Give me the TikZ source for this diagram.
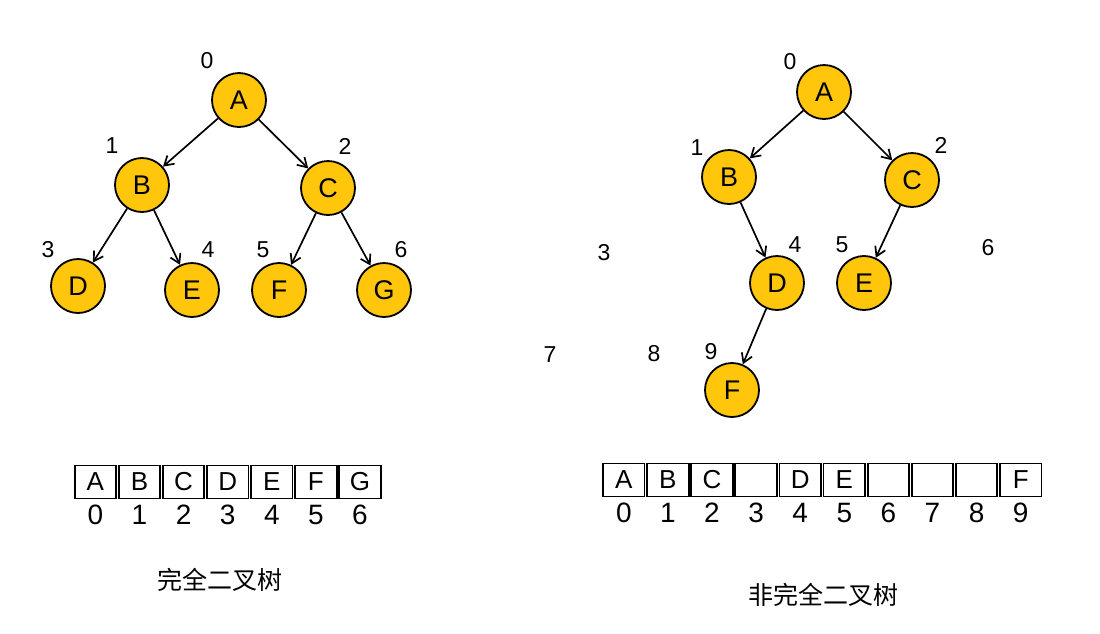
\documentclass[tikz,border=0pt]{standalone}
\usepackage{fontspec}
\setmainfont{Liberation Sans}
\newfontfamily\cjk{Noto Sans CJK SC}
\usepackage{tikz}
\usetikzlibrary{arrows.meta, positioning, calc}
\definecolor{treegold}{HTML}{FFC60B}

\begin{document}
\begin{tikzpicture}[
    x=1pt, y=-1pt,
    tnode/.style={circle, draw, line width=1.8pt, fill=treegold, minimum size=54pt,
                  inner sep=0pt, font=\fontsize{27}{27}\selectfont},
    tedge/.style={-{Straight Barb[length=9pt, width=11pt]}, line width=1.7pt},
    idx/.style={font=\fontsize{23}{23}\selectfont},
    cell/.style={draw, line width=1.8pt, minimum width=41.5pt, minimum height=33pt,
                 inner sep=0pt, font=\fontsize{26}{26}\selectfont},
    cellnum/.style={font=\fontsize{28}{28}\selectfont},
    treecap/.style={font=\cjk\fontsize{25}{25}\selectfont}
]
    \useasboundingbox (0,0) rectangle (1100,633);

    % complete binary tree
    \node[tnode] (a) at (239,100) {A};
    \node[tnode] (b) at (142,185) {B};
    \node[tnode] (c) at (328,188) {C};
    \node[tnode] (d) at (78,286) {D};
    \node[tnode] (e) at (192,290) {E};
    \node[tnode] (f) at (279,290) {F};
    \node[tnode] (g) at (384,290) {G};
    \draw[tedge] (a) -- (b);
    \draw[tedge] (a) -- (c);
    \draw[tedge] (b) -- (d);
    \draw[tedge] (b) -- (e);
    \draw[tedge] (c) -- (f);
    \draw[tedge] (c) -- (g);
    \node[idx] (ia) at (207,61) {0};
    \node[idx] (ib) at (112,146) {1};
    \node[idx] (ic) at (345,146) {2};
    \node[idx] (id) at (48,250) {3};
    \node[idx] (ie) at (208,250) {4};
    \node[idx] (if) at (263,250) {5};
    \node[idx] (ig) at (401,250) {6};

    % array of the complete tree
    \foreach \v [count=\i from 0] in {A,B,C,D,E,F,G} {
        \node[cell] (l\i) at (95.4+44.1*\i,482) {\v};
        \node[cellnum] (ln\i) at (95.4+44.1*\i,515) {\i};
    }
    \node[treecap] (lcap) at (220,580) {完全二叉树};

    % incomplete binary tree
    \node[tnode] (a2) at (824,92) {A};
    \node[tnode] (b2) at (729,177) {B};
    \node[tnode] (c2) at (912,180) {C};
    \node[tnode] (d2) at (777,283) {D};
    \node[tnode] (e2) at (864,283) {E};
    \node[tnode] (f2) at (732,390) {F};
    \draw[tedge] (a2) -- (b2);
    \draw[tedge] (a2) -- (c2);
    \draw[tedge] (b2) -- (d2);
    \draw[tedge] (c2) -- (e2);
    \draw[tedge] (d2) -- (f2);
    \node[idx] (ia2) at (790,62) {0};
    \node[idx] (ib2) at (697,148) {1};
    \node[idx] (ic2) at (941,145) {2};
    \node[idx] (id2) at (604,253) {3};
    \node[idx] (ie2) at (795,245) {4};
    \node[idx] (if2) at (842,245) {5};
    \node[idx] (ig2) at (988,248) {6};
    \node[idx] (ih2) at (550,355) {7};
    \node[idx] (ii2) at (654,354) {8};
    \node[idx] (ij2) at (711,352) {9};

    % array of the incomplete tree
    \foreach \v [count=\i from 0] in {A,B,C,{},D,E,{},{},{},F} {
        \node[cell] (r\i) at (623.8+44.1*\i,480) {\v};
        \node[cellnum] (rn\i) at (623.8+44.1*\i,513) {\i};
    }
    \node[treecap] (rcap) at (823,595) {非完全二叉树};
\end{tikzpicture}
\end{document}
